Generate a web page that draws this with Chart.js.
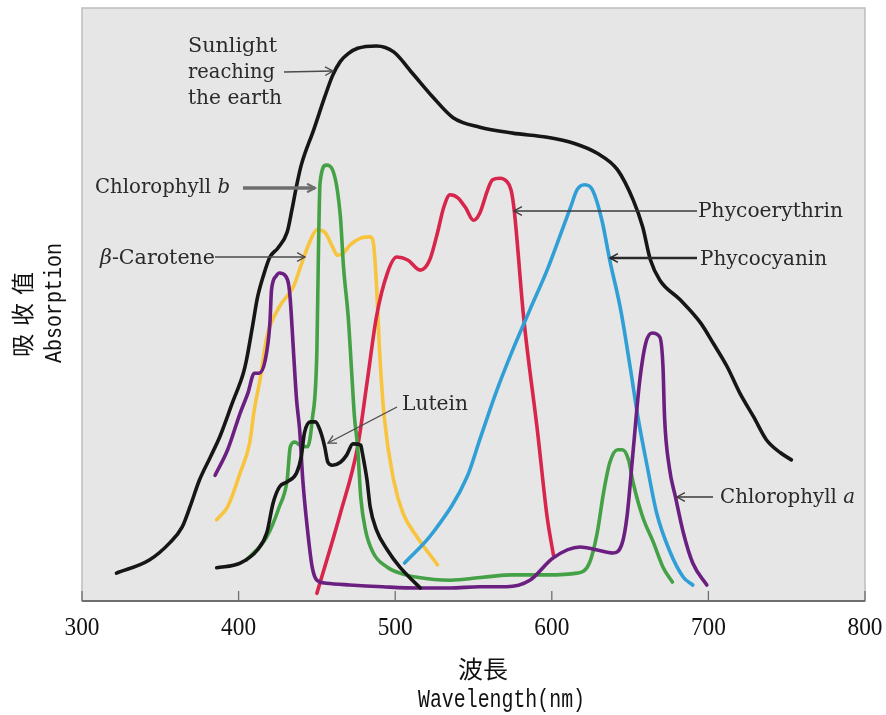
<!DOCTYPE html>
<html>
<head>
<meta charset="utf-8">
<script src="https://cdn.jsdelivr.net/npm/chart.js@4.4.1/dist/chart.umd.min.js"></script>
<style>
  html, body { margin: 0; padding: 0; background: #fff; }
  #wrap { width: 886px; height: 715px; }
</style>
</head>
<body>
<div id="wrap"><canvas id="grafico" width="886" height="715"></canvas></div>
<script>
// Marcas do eixo de comprimento de onda
const xTicks = [300, 400, 500, 600, 700, 800];

// Cada curva: comprimento de onda (nm) e absorção relativa (0 a 100)
const sunWl = [322,343,356,364,369,375,382,388,396,403,405,409,412,416,420,425,431,434,437,440,448,455,460,465,470,476,488,499,511,524,537,554,575,597,614,629,642,652,658,663,669,682,695,703,712,720,729,737,746,753];
const sunAbs = [4.7,6.9,9.8,12.5,15.9,20.4,24.3,27.7,33.4,38.4,40.6,46.5,51.1,55.0,58.0,59.5,62.2,65.9,70.0,73.5,79.5,85.0,88.6,91.0,92.3,93.2,93.6,92.6,89.0,85.0,81.5,79.9,78.9,78.2,77.2,75.5,72.7,67.6,63.1,57.5,54.1,50.8,46.9,43.5,39.5,35.1,31.0,27.2,25.0,23.8];

const chlBWl = [405,418,426,431,433,436,439,444,447,450,451,452,456,460,465,467,470,472,474,476,478,481,486,495,503,514,535,556,575,597,616,624,629,633,637,642,645,649,652,658,665,671,677];
const chlBAbs = [6.9,10.8,15.9,20.4,26.0,26.8,26.3,26.0,30.5,42.3,59.2,70.5,73.5,72.7,64.8,56.3,47.9,39.5,31.0,26.0,17.5,12.0,8.1,5.7,4.7,4.0,3.5,4.0,4.4,4.4,4.7,6.4,11.5,18.2,23.3,25.5,25.5,23.8,19.9,14.2,9.8,5.7,3.2];

const chlAWl = [385,393,401,406,410,413,417,420,421,424,426,430,432,433,435,437,439,441,444,447,450,456,471,492,514,535,554,571,586,601,618,629,639,645,648,652,656,660,664,669,671,672,675,679,684,690,699];
const chlAAbs = [21.2,25.5,31.7,35.1,38.4,38.4,40.6,46.9,52.4,54.8,55.3,54.8,53.3,50.8,42.3,34.0,28.8,20.4,12.0,5.7,3.5,3.0,2.7,2.4,2.2,2.2,2.4,2.4,3.5,7.3,9.1,8.6,8.1,9.8,14.2,25.5,36.8,43.5,45.2,44.5,39.5,31.0,22.6,17.5,11.5,6.4,2.7];

const caroWl = [386,393,401,407,410,414,418,426,435,441,446,450,455,460,463,467,471,478,484,486,488,490,493,499,505,514,527];
const caroAbs = [13.7,15.9,21.6,26.6,32.2,37.8,44.5,49.6,53.0,57.5,60.9,62.6,62.2,59.7,58.3,58.7,60.0,61.2,61.4,60.5,53.6,42.3,31.0,20.4,14.8,10.8,6.1];

const eritWl = [450,465,476,482,488,495,501,508,516,522,527,531,535,540,545,550,554,559,562,567,571,574,576,582,591,597,601];
const eritAbs = [1.3,14.8,26.0,36.8,47.9,55.3,58.0,57.5,55.8,57.5,62.1,66.4,68.5,68.0,66.3,64.2,65.4,69.3,71.0,71.3,70.8,69.3,65.9,47.9,28.3,14.2,7.8];

const cianWl = [506,524,546,554,565,575,586,597,605,612,616,621,626,632,637,644,650,655,661,667,675,684,690];
const cianAbs = [6.4,11.5,21.0,27.2,35.6,42.3,49.1,55.8,61.4,66.4,69.3,70.2,69.3,64.2,57.5,49.1,39.5,31.0,22.6,14.8,8.6,4.0,2.7];

const luteWl = [386,401,412,418,422,426,431,437,440,442,446,449,452,455,457,460,465,469,473,478,479,482,484,488,495,503,511,516];
const luteAbs = [5.6,6.4,8.6,11.5,16.5,19.2,20.1,21.6,24.3,28.3,30.2,30.2,28.8,26.0,23.4,22.9,23.4,24.6,26.5,26.3,25.0,20.4,15.9,12.0,8.6,5.7,3.5,2.2];

const pares = (wl, abs) => wl.map((w, i) => ({ x: w, y: abs[i] }));

function curva(wl, abs, cor) {
    return {
        data: pares(wl, abs),
        borderColor: cor,
        borderWidth: 3.6,
        pointRadius: 0,
        fill: false,
        cubicInterpolationMode: 'monotone',
        borderCapStyle: 'round',
        borderJoinStyle: 'round'
    };
}

// Texto ajustado a uma largura; partes = [[texto, italico], ...]
function escreve(ctx, partes, x, y, largura, fonte, tamanho) {
    const f = (it) => (it ? 'italic ' : '') + tamanho + 'px ' + fonte;
    let total = 0;
    partes.forEach(p => { ctx.font = f(p[1]); total += ctx.measureText(p[0]).width; });
    ctx.save();
    ctx.translate(x, y);
    ctx.scale(largura / total, 1);
    let cx = 0;
    partes.forEach(p => {
        ctx.font = f(p[1]);
        ctx.fillText(p[0], cx, 0);
        cx += ctx.measureText(p[0]).width;
    });
    ctx.restore();
}

function seta(ctx, x1, y1, x2, y2, esp, cor) {
    ctx.save();
    ctx.strokeStyle = cor;
    ctx.lineWidth = esp;
    ctx.beginPath();
    ctx.moveTo(x1, y1);
    ctx.lineTo(x2, y2);
    ctx.stroke();
    const a = Math.atan2(y2 - y1, x2 - x1);
    const L = 9;
    ctx.lineWidth = Math.max(1.3, esp * 0.6);
    ctx.beginPath();
    ctx.moveTo(x2 - L * Math.cos(a - 0.5), y2 - L * Math.sin(a - 0.5));
    ctx.lineTo(x2, y2);
    ctx.lineTo(x2 - L * Math.cos(a + 0.5), y2 - L * Math.sin(a + 0.5));
    ctx.stroke();
    ctx.restore();
}

const serif = '"DejaVu Serif", "Liberation Serif", serif';
const mono = '"Liberation Mono", monospace';
const cjk = '"Noto Sans CJK TC", sans-serif';
const rotulos = [
    { t: [['Sunlight', 0]], x: 188, y: 52, w: 89 },
    { t: [['reaching', 0]], x: 188, y: 78, w: 87 },
    { t: [['the earth', 0]], x: 188, y: 104, w: 94 },
    { t: [['Chlorophyll ', 0], ['b', 1]], x: 95, y: 193, w: 135 },
    { t: [['β', 1], ['-Carotene', 0]], x: 100, y: 264, w: 115 },
    { t: [['Lutein', 0]], x: 402, y: 410, w: 66 },
    { t: [['Phycoerythrin', 0]], x: 698, y: 217, w: 145 },
    { t: [['Phycocyanin', 0]], x: 700, y: 265, w: 127 },
    { t: [['Chlorophyll ', 0], ['a', 1]], x: 720, y: 503, w: 135 }
];
const setas = [
    [284, 72, 333, 71, 1.6, '#4a4a4a'],
    [243, 188, 315, 188, 3.6, '#6e6e6e'],
    [215, 257, 305, 257, 1.4, '#4a4a4a'],
    [397, 407, 328, 443, 1.4, '#4a4a4a'],
    [697, 211, 514, 211, 1.3, '#3a3a3a'],
    [697, 258, 610, 258, 2.6, '#2a2a2a'],
    [713, 497, 677, 497, 1.4, '#3a3a3a']
];

const moldura = {
    id: 'moldura',
    beforeDraw(chart) {
        const { ctx, chartArea: a } = chart;
        ctx.save();
        ctx.fillStyle = '#e6e6e6';
        ctx.fillRect(a.left, a.top, a.right - a.left, a.bottom - a.top);
        ctx.strokeStyle = '#bdbdbd';
        ctx.lineWidth = 1.5;
        ctx.strokeRect(a.left, a.top, a.right - a.left, a.bottom - a.top);
        ctx.restore();
    },
    afterDraw(chart) {
        const { ctx, chartArea: a } = chart;
        const sx = chart.scales.x;
        ctx.save();
        // eixo inferior e marcas para dentro
        ctx.strokeStyle = '#6f6f6f';
        ctx.lineWidth = 2;
        ctx.beginPath();
        ctx.moveTo(a.left, a.bottom);
        ctx.lineTo(a.right, a.bottom);
        ctx.stroke();
        ctx.lineWidth = 1.3;
        ctx.fillStyle = '#111';
        xTicks.forEach(v => {
            const px = sx.getPixelForValue(v);
            ctx.beginPath();
            ctx.moveTo(px, a.bottom);
            ctx.lineTo(px, a.bottom - 10);
            ctx.stroke();
            escreve(ctx, [[String(v), 0]], px - 17.5, 635, 35, '"Liberation Serif", serif', 26);
        });
        // títulos dos eixos
        escreve(ctx, [['波長', 0]], 458, 678, 50, cjk, 24);
        escreve(ctx, [['Wavelength(nm)', 0]], 418, 707, 167, mono, 25);
        ctx.save();
        ctx.rotate(-Math.PI / 2);
        ctx.font = '23px ' + cjk;
        ['吸', '收', '值'].forEach((c, i) => ctx.fillText(c, -357 + i * 31, 31));
        escreve(ctx, [['Absorption', 0]], -363, 61, 120, mono, 23);
        ctx.restore();
        // anotações
        ctx.fillStyle = '#2a2a2a';
        rotulos.forEach(r => escreve(ctx, r.t, r.x, r.y, r.w, serif, 21));
        setas.forEach(s => seta(ctx, ...s));
        ctx.restore();
    }
};

const ctxGrafico = document.getElementById('grafico').getContext('2d');
new Chart(ctxGrafico, {
    type: 'line',
    data: {
        datasets: [
            curva(sunWl, sunAbs, '#161616'),
            curva(luteWl, luteAbs, '#161616'),
            curva(chlAWl, chlAAbs, '#6b1f80'),
            curva(chlBWl, chlBAbs, '#45a145'),
            curva(cianWl, cianAbs, '#2f9fd6'),
            curva(eritWl, eritAbs, '#d8254b'),
            curva(caroWl, caroAbs, '#f8c43d')
        ]
    },
    options: {
        responsive: false,
        animation: false,
        events: [],
        layout: { padding: { left: 82, right: 21, top: 8, bottom: 114 } },
        scales: {
            x: { type: 'linear', min: 300, max: 800, display: false },
            y: { min: 0, max: 100, display: false }
        },
        plugins: {
            legend: { display: false },
            tooltip: { enabled: false }
        }
    },
    plugins: [moldura]
});
</script>
</body>
</html>
